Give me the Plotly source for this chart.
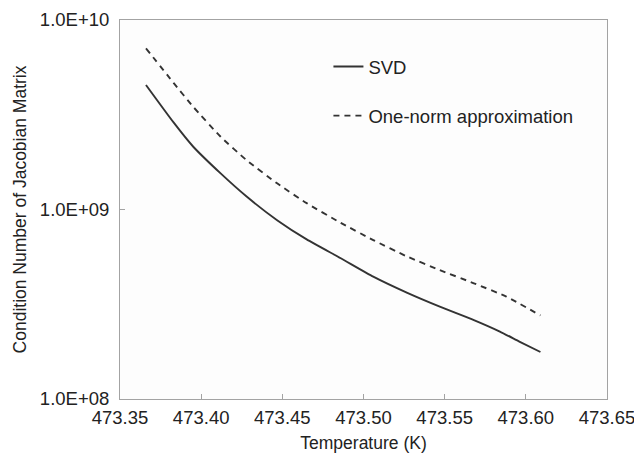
import plotly.graph_objects as go

# Condition number of the Jacobian matrix versus temperature
temp_svd = [473.366, 473.383, 473.395, 473.412, 473.428, 473.447, 473.465,
            473.486, 473.506, 473.527, 473.547, 473.568, 473.584, 473.596, 473.609]
cond_svd = [4.54e9, 2.88e9, 2.15e9, 1.55e9, 1.17e9, 8.75e8, 6.95e8,
            5.53e8, 4.42e8, 3.63e8, 3.07e8, 2.61e8, 2.27e8, 2.01e8, 1.77e8]

temp_onenorm = [473.366, 473.383, 473.395, 473.412, 473.428, 473.447, 473.465,
                473.486, 473.506, 473.527, 473.547, 473.568, 473.588, 473.609]
cond_onenorm = [7.09e9, 4.66e9, 3.49e9, 2.42e9, 1.82e9, 1.37e9, 1.08e9,
                8.50e8, 6.90e8, 5.64e8, 4.79e8, 4.08e8, 3.47e8, 2.76e8]

x_ticks = [473.35, 473.40, 473.45, 473.50, 473.55, 473.60, 473.65]
x_tick_labels = ["473.35", "473.40", "473.45", "473.50", "473.55", "473.60", "473.65"]
y_ticks = [1e8, 1e9, 1e10]
y_tick_labels = ["1.0E+08", "1.0E+09", "1.0E+10"]

line_color = "#333333"
frame_color = "#a3a3a3"
text_color = "#222222"
font_family = "Liberation Sans, Arial, sans-serif"

fig = go.Figure()
fig.add_trace(go.Scatter(
    x=temp_svd, y=cond_svd, mode="lines", name="SVD",
    legendgroup="svd",
    line=dict(color=line_color, width=1.9, shape="spline", smoothing=0.5),
))
fig.add_trace(go.Scatter(
    x=temp_onenorm, y=cond_onenorm, mode="lines", name="One-norm approximation",
    legendgroup="onenorm",
    line=dict(color=line_color, width=1.9, dash="6px,5px", shape="spline", smoothing=0.5),
))

fig.update_layout(
    width=634, height=453,
    margin=dict(l=120, r=27, t=20, b=54),
    paper_bgcolor="white",
    plot_bgcolor="#fdfdfd",
    font=dict(family=font_family, size=18.5, color=text_color),
    showlegend=True,
    legend=dict(
        x=0.428, y=0.926, xanchor="left", yanchor="top",
        bgcolor="rgba(0,0,0,0)", borderwidth=0,
        font=dict(size=18.5, color=text_color),
        traceorder="grouped", tracegroupgap=22,
    ),
    xaxis=dict(
        range=[473.35, 473.65],
        tickvals=x_ticks, ticktext=x_tick_labels,
        ticks="inside", ticklen=5, tickcolor=frame_color,
        showline=True, linecolor=frame_color, linewidth=1, mirror=True,
        showgrid=False, zeroline=False,
        automargin=False, ticklabeloverflow="allow",
        ticklabelstandoff=2,
        title=dict(text="Temperature (K)", font=dict(size=17.5), standoff=12),
    ),
    yaxis=dict(
        type="log", range=[8, 10],
        tickvals=y_ticks, ticktext=y_tick_labels,
        ticks="inside", ticklen=5, tickcolor=frame_color,
        showline=True, linecolor=frame_color, linewidth=1, mirror=True,
        showgrid=False, zeroline=False,
        automargin=False, ticklabeloverflow="allow",
        ticklabelstandoff=6,
        title=dict(text="Condition Number of Jacobian Matrix", font=dict(size=17.5), standoff=8),
    ),
)

fig.write_html("out.html")
